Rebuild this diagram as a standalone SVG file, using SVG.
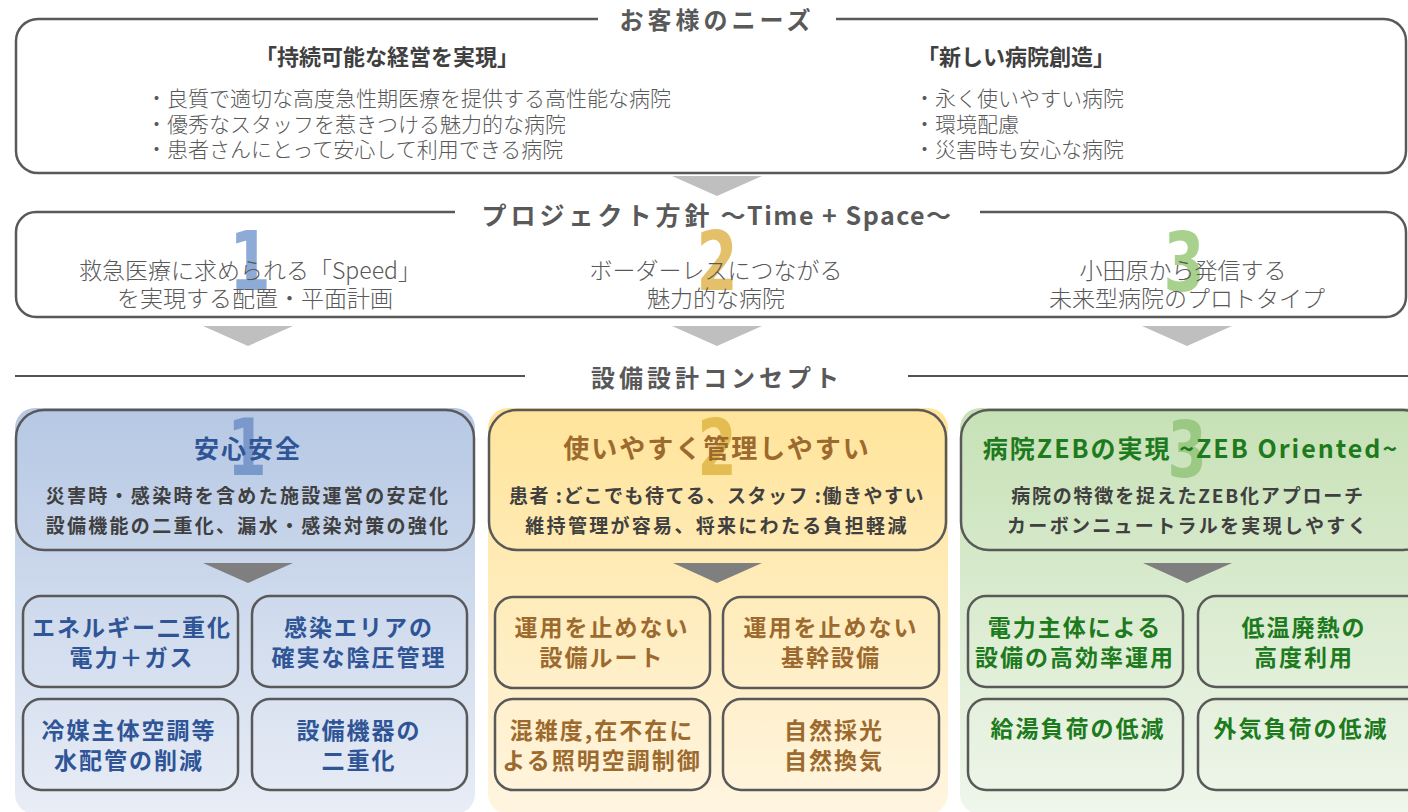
<svg xmlns="http://www.w3.org/2000/svg" width="1408" height="812" viewBox="0 0 1408 812">
<defs>
<linearGradient id="gBlue" x1="0" y1="0" x2="0" y2="1"><stop offset="0" stop-color="#b6c8e4"/><stop offset="1" stop-color="#e8edf6"/></linearGradient>
<linearGradient id="gYel" x1="0" y1="0" x2="0" y2="1"><stop offset="0" stop-color="#ffe49a"/><stop offset="1" stop-color="#fff5e0"/></linearGradient>
<linearGradient id="gGrn" x1="0" y1="0" x2="0" y2="1"><stop offset="0" stop-color="#c7e1b6"/><stop offset="1" stop-color="#eff6eb"/></linearGradient>
<style>
.box{fill:none;stroke:#595959;stroke-width:2.5}
.card{fill:none;stroke:#595959;stroke-width:2.5}
.jp{font-family:"Noto Sans CJK JP","Noto Sans",sans-serif}
.hdr{font-family:"Noto Sans CJK JP","Noto Sans",sans-serif;font-weight:bold;fill:#595959;text-anchor:middle}
.lt{font-family:"Noto Sans CJK JP","Noto Sans",sans-serif;font-weight:300;fill:#595959}
.sub{font-family:"Noto Sans CJK JP","Noto Sans",sans-serif;font-weight:bold;fill:#404040;text-anchor:middle}
.big{font-family:"DejaVu Sans Condensed","Roboto","Liberation Sans",sans-serif;font-weight:bold;text-anchor:middle}
.t{font-family:"Noto Sans CJK JP","Noto Sans",sans-serif;font-weight:bold;text-anchor:middle;font-size:23px;letter-spacing:2px}
.blue{fill:#2f5597}
.brown{fill:#9c6a2e}
.green{fill:#1d7a1d}
</style>
</defs>

<g id="connectors">
<polygon points="672,176 762,176 717,196" fill="#bfbfbf"/>
<polygon points="203,326 293,326 248,346" fill="#bfbfbf"/>
<polygon points="672,326 762,326 717,346" fill="#bfbfbf"/>
<polygon points="1142,326 1232,326 1187,346" fill="#bfbfbf"/>
<line x1="15" y1="376" x2="525" y2="376" stroke="#1a1a1a" stroke-width="1.5"/>
<line x1="908" y1="376" x2="1408" y2="376" stroke="#1a1a1a" stroke-width="1.5"/>
</g>

<g id="needs">
<rect class="box" x="16" y="19" width="1390" height="154" rx="22"/>
<rect x="598" y="8" width="238" height="20" fill="#fff"/>
<text class="hdr" x="717" y="29" font-size="24" letter-spacing="4">お客様のニーズ</text>
<text class="jp" x="387" y="65" font-size="22" font-weight="bold" fill="#404040" text-anchor="middle">「持続可能な経営を実現」</text>
<text class="lt" x="146" y="106" font-size="21">・良質で適切な高度急性期医療を提供する高性能な病院</text>
<text class="lt" x="146" y="132" font-size="21">・優秀なスタッフを惹きつける魅力的な病院</text>
<text class="lt" x="146" y="157" font-size="21">・患者さんにとって安心して利用できる病院</text>
<text class="jp" x="1016" y="65" font-size="22" font-weight="bold" fill="#404040" text-anchor="middle">「新しい病院創造」</text>
<text class="lt" x="914" y="106" font-size="21">・永く使いやすい病院</text>
<text class="lt" x="914" y="132" font-size="21">・環境配慮</text>
<text class="lt" x="914" y="157" font-size="21">・災害時も安心な病院</text>
</g>

<g id="policy">
<rect class="box" x="16" y="212" width="1390" height="105" rx="20"/>
<rect x="455" y="200" width="525" height="22" fill="#fff"/>
<text class="hdr" x="717" y="225" font-size="25"><tspan letter-spacing="4">プロジェクト方針</tspan><tspan letter-spacing="1.5"> ～Time + Space～</tspan></text>
<text class="big" transform="translate(250 290) scale(0.8 1)" font-size="82" fill="#8eaad6">1</text>
<text class="big" transform="translate(717 290) scale(0.8 1)" font-size="82" fill="#e5c06a">2</text>
<text class="big" transform="translate(1184 291) scale(0.8 1)" font-size="82" fill="#a9d18e">3</text>
<text class="lt" x="250" y="279" font-size="23" text-anchor="middle">救急医療に求められる「Speed」</text>
<text class="lt" x="255" y="307" font-size="23" text-anchor="middle">を実現する配置・平面計画</text>
<text class="lt" x="716" y="279" font-size="23" text-anchor="middle">ボーダーレスにつながる</text>
<text class="lt" x="716" y="307" font-size="23" text-anchor="middle">魅力的な病院</text>
<text class="lt" x="1183" y="279" font-size="23" text-anchor="middle">小田原から発信する</text>
<text class="lt" x="1187" y="307" font-size="23" text-anchor="middle">未来型病院のプロトタイプ</text>
</g>

<g id="concept-title">
<text class="hdr" x="717" y="387" font-size="24" letter-spacing="4">設備設計コンセプト</text>
</g>

<g id="col1">
<rect x="15" y="408" width="460" height="406" rx="20" fill="url(#gBlue)"/>
<text class="big" transform="translate(247 475) scale(0.8 1)" font-size="78" fill="#6f8fc6" fill-opacity="0.85">1</text>
<rect class="card" x="16" y="410" width="458" height="140" rx="28"/>
<text class="jp blue" x="248" y="458" font-size="25" font-weight="bold" text-anchor="middle" letter-spacing="2">安心安全</text>
<text class="sub" x="248" y="503" font-size="19" letter-spacing="2.3">災害時・感染時を含めた施設運営の安定化</text>
<text class="sub" x="248" y="533" font-size="19" letter-spacing="2.3">設備機能の二重化、漏水・感染対策の強化</text>
<polygon points="203,563 293,563 248,583" fill="#7f7f7f"/>
<rect class="card" x="23" y="596" width="215" height="91" rx="18"/>
<rect class="card" x="252" y="596" width="215" height="91" rx="18"/>
<rect class="card" x="23" y="699" width="215" height="91" rx="18"/>
<rect class="card" x="252" y="699" width="215" height="91" rx="18"/>
<text class="t blue" x="132" y="636">エネルギー二重化</text>
<text class="t blue" x="132" y="666">電力＋ガス</text>
<text class="t blue" x="359" y="636">感染エリアの</text>
<text class="t blue" x="359" y="666">確実な陰圧管理</text>
<text class="t blue" x="129" y="739">冷媒主体空調等</text>
<text class="t blue" x="129" y="769">水配管の削減</text>
<text class="t blue" x="359" y="739">設備機器の</text>
<text class="t blue" x="359" y="769">二重化</text>
</g>

<g id="col2">
<rect x="488" y="408" width="460" height="406" rx="20" fill="url(#gYel)"/>
<text class="big" transform="translate(717 475) scale(0.8 1)" font-size="78" fill="#e0b848" fill-opacity="0.9">2</text>
<rect class="card" x="489" y="410" width="457" height="140" rx="28"/>
<text class="jp brown" x="717" y="458" font-size="26" font-weight="bold" text-anchor="middle" letter-spacing="2">使いやすく管理しやすい</text>
<text class="sub" x="717" y="503" font-size="19" letter-spacing="1.5">患者 :どこでも待てる、スタッフ :働きやすい</text>
<text class="sub" x="717" y="533" font-size="19" letter-spacing="2.3">維持管理が容易、将来にわたる負担軽減</text>
<polygon points="673,563 762,563 717,583" fill="#7f7f7f"/>
<rect class="card" x="495" y="597" width="215" height="91" rx="18"/>
<rect class="card" x="723" y="597" width="216" height="91" rx="18"/>
<rect class="card" x="495" y="699" width="215" height="91" rx="18"/>
<rect class="card" x="723" y="699" width="216" height="91" rx="18"/>
<text class="t brown" x="602" y="636">運用を止めない</text>
<text class="t brown" x="602" y="666">設備ルート</text>
<text class="t brown" x="831" y="636">運用を止めない</text>
<text class="t brown" x="831" y="666">基幹設備</text>
<text class="t brown" x="602" y="739">混雑度,在不在に</text>
<text class="t brown" x="602" y="769">よる照明空調制御</text>
<text class="t brown" x="834" y="739">自然採光</text>
<text class="t brown" x="834" y="769">自然換気</text>
</g>

<g id="col3">
<rect x="960" y="408" width="470" height="406" rx="20" fill="url(#gGrn)"/>
<text class="big" transform="translate(1187 477) scale(0.8 1)" font-size="78" fill="#93c47a" fill-opacity="0.85">3</text>
<rect class="card" x="961" y="410" width="470" height="140" rx="28"/>
<text class="jp green" x="1191" y="458" font-size="25" font-weight="bold" text-anchor="middle" letter-spacing="2">病院ZEBの実現 ~ZEB Oriented~</text>
<text class="sub" x="1188" y="503" font-size="19" letter-spacing="1.8">病院の特徴を捉えたZEB化アプローチ</text>
<text class="sub" x="1188" y="533" font-size="19" letter-spacing="2.3">カーボンニュートラルを実現しやすく</text>
<polygon points="1143,563 1232,563 1187,583" fill="#7f7f7f"/>
<rect class="card" x="968" y="596" width="215" height="91" rx="18"/>
<rect class="card" x="1198" y="596" width="230" height="91" rx="18"/>
<rect class="card" x="968" y="699" width="215" height="91" rx="18"/>
<rect class="card" x="1198" y="699" width="230" height="91" rx="18"/>
<text class="t green" x="1075" y="636">電力主体による</text>
<text class="t green" x="1075" y="666">設備の高効率運用</text>
<text class="t green" x="1304" y="636">低温廃熱の</text>
<text class="t green" x="1304" y="666">高度利用</text>
<text class="t green" x="1078" y="737">給湯負荷の低減</text>
<text class="t green" x="1301" y="737">外気負荷の低減</text>
</g>
</svg>
